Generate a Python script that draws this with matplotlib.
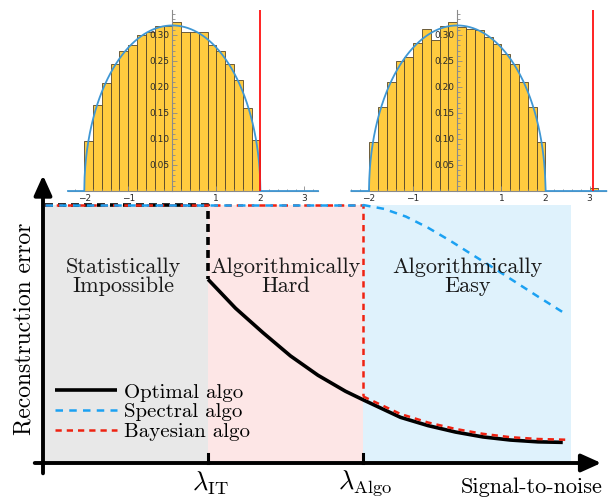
import numpy as np
import matplotlib.pyplot as plt
from matplotlib.ticker import MultipleLocator

plt.rcParams['mathtext.fontset'] = 'cm'
plt.rcParams['axes.unicode_minus'] = True

# ---------- histograms of the spectrum (bins of width 0.2 on [-2, 2]) ----------
bin_edges = np.linspace(-2, 2, 21)
hist_below = [0.097, 0.165, 0.207, 0.244, 0.269, 0.281, 0.299, 0.305, 0.317, 0.317,
              0.324, 0.305, 0.305, 0.305, 0.281, 0.269, 0.244, 0.213, 0.159, 0.098]
hist_above = [0.095, 0.162, 0.209, 0.250, 0.257, 0.284, 0.311, 0.290, 0.318, 0.324,
              0.315, 0.311, 0.310, 0.297, 0.283, 0.264, 0.244, 0.210, 0.162, 0.095]
outlier_bin = [3.0, 3.2]
outlier_height = 0.006
top_eig_below = 2.0
top_eig_above = 3.08

# ---------- schematic error curves ----------
lam_it = 3.0
lam_algo = 5.82
x_start, x_end = 0.04, 9.6

opt_x = [3.0, 3.5, 4.0, 4.5, 5.0, 5.5, 5.82, 6.5, 7.0, 7.5, 8.0, 8.5, 9.0, 9.45]
opt_y = [0.712, 0.600, 0.505, 0.415, 0.340, 0.278, 0.245, 0.177, 0.145, 0.120,
         0.101, 0.089, 0.082, 0.080]
spec_x = [5.82, 6.2, 6.6, 7.0, 7.4, 7.8, 8.2, 8.6, 9.0, 9.5]
spec_y = [1.0, 0.985, 0.955, 0.912, 0.862, 0.808, 0.755, 0.700, 0.645, 0.578]
bayes_x = [5.82, 6.5, 7.0, 7.5, 8.0, 8.5, 9.0, 9.55]
bayes_y = [0.258, 0.190, 0.157, 0.132, 0.113, 0.100, 0.093, 0.090]

serif = 'cmr10'
col_gray = '#e8e8e8'
col_pink = '#fde6e6'
col_sky = '#dff2fc'
col_blue = '#1ba1f2'
col_red = '#ee2211'

fig = plt.figure(figsize=(6.15, 4.97), dpi=100)

# main schematic axes covers the whole figure (1 unit = 55 px in x, 258 px in y)
ax = fig.add_axes([0, 0, 1, 1])
ax.set_xlim(-43 / 55, (615 - 43) / 55)
ax.set_ylim((463 - 497) / 258, 463 / 258)
ax.axis('off')

ax.fill_between([x_start, lam_it], 0, 1, color=col_gray, lw=0, zorder=0)
ax.fill_between([lam_it, lam_algo], 0, 1, color=col_pink, lw=0, zorder=0)
ax.fill_between([lam_algo, x_end], 0, 1, color=col_sky, lw=0, zorder=0)

# optimal: flat at 1, jump at lambda_IT, then decreasing
ax.plot([x_start, lam_it, lam_it], [1, 1, opt_y[0]], color='black', lw=2.6,
        dashes=(2.2, 1.4), zorder=3)
optimal, = ax.plot(opt_x, opt_y, color='black', lw=2.6, solid_capstyle='butt',
                   zorder=3, label='Optimal algo')
# bayesian: stuck until lambda_Algo
ax.plot([x_start, lam_algo, lam_algo], [1, 1, bayes_y[0]], color=col_red, lw=1.8,
        dashes=(2.5, 2.0), zorder=4)
bayes, = ax.plot(bayes_x, bayes_y, color=col_red, lw=1.8, dashes=(2.5, 2.0),
                 zorder=4, label='Bayesian algo')
# spectral
ax.plot([x_start, lam_algo], [1, 1], color=col_blue, lw=1.8, dashes=(3.0, 2.5),
        zorder=5)
spectral, = ax.plot(spec_x, spec_y, color=col_blue, lw=1.8, dashes=(3.0, 2.5),
                    zorder=5, label='Spectral algo')

# axes arrows
arrow = dict(arrowstyle='-|>,head_length=0.6,head_width=0.27', lw=2.8,
             color='black', mutation_scale=20, shrinkA=0, shrinkB=0)
ax.annotate('', xy=(0, 1.115), xytext=(0, -0.04), arrowprops=arrow, zorder=6)
ax.annotate('', xy=(10.15, 0), xytext=(-0.15, 0), arrowprops=arrow, zorder=6)
for lam in (lam_it, lam_algo):
    ax.plot([lam, lam], [0, 0.035], color='black', lw=2.2, zorder=6)

ax.text(lam_it + 0.05, -0.078, r'$\lambda_{\mathrm{IT}}$', fontsize=19,
        ha='center', va='center')
ax.text(lam_algo + 0.04, -0.078, r'$\lambda_{\mathrm{Algo}}$', fontsize=19,
        ha='center', va='center')
ax.text(10.17, -0.093, 'Signal-to-noise', family=serif, fontsize=16,
        ha='right', va='center')
ax.text(-0.345, 0.52, 'Reconstruction error', family=serif, fontsize=17,
        rotation=90, ha='center', va='center')

for xc, label in [(1.47, 'Statistically\nImpossible'),
                  (4.41, 'Algorithmically\nHard'),
                  (7.72, 'Algorithmically\nEasy')]:
    ax.text(xc, 0.722, label, family=serif, fontsize=16, ha='center',
            va='center', linespacing=1.0, color='#1a1a1a', zorder=7)

ax.legend(handles=[optimal, spectral, bayes], loc='upper left',
          bbox_to_anchor=(0.218, 0.31), bbox_transform=ax.transData,
          frameon=False, borderpad=0, borderaxespad=0, labelspacing=0.05,
          handlelength=3.0, handletextpad=0.3,
          prop={'family': serif, 'size': 15})


def spectrum_inset(rect, xlim, heights, top_eig, extra=None):
    ins = fig.add_axes(rect)
    ins.patch.set_alpha(0)
    ins.set_xlim(*xlim)
    ins.set_ylim(0, 0.348)
    ins.bar(bin_edges[:-1], heights, width=np.diff(bin_edges), align='edge',
            color='#ffcb3f', edgecolor='#54452a', lw=0.6, zorder=1)
    if extra is not None:
        ins.bar(extra[0][0], extra[1], width=extra[0][1] - extra[0][0],
                align='edge', color='#ffcb3f', edgecolor='#54452a', lw=0.6,
                zorder=1)
    xs = np.linspace(xlim[0], xlim[1], 800)
    ins.plot(xs, np.sqrt(np.clip(4 - xs ** 2, 0, None)) / (2 * np.pi),
             color='#3f97d4', lw=1.3, zorder=3, clip_on=False)
    ins.axvline(top_eig, color='#ff1111', lw=1.3, zorder=4)

    for side in ('top', 'right'):
        ins.spines[side].set_visible(False)
    ins.spines['left'].set_position(('data', 0))
    ins.spines['bottom'].set_position(('data', 0))
    for side in ('left', 'bottom'):
        ins.spines[side].set_color('#8a8a8a')
        ins.spines[side].set_linewidth(0.8)
        ins.spines[side].set_zorder(2)
    ins.set_xticks([-2, -1, 1, 2, 3])
    ins.xaxis.set_minor_locator(MultipleLocator(0.2))
    ins.set_yticks([0.05, 0.10, 0.15, 0.20, 0.25, 0.30])
    ins.set_yticklabels(['0.05', '0.10', '0.15', '0.20', '0.25', '0.30'])
    ins.yaxis.set_minor_locator(MultipleLocator(0.01))
    ins.tick_params(which='both', direction='in', color='#8a8a8a', width=0.6,
                    labelsize=6.5, labelcolor='#2a2a2a', pad=2)
    ins.tick_params(which='major', length=3.5)
    ins.tick_params(which='minor', length=1.8)
    for lab in ins.get_xticklabels() + ins.get_yticklabels():
        lab.set_family('DejaVu Sans')
    return ins


spectrum_inset([68 / 615, 306 / 497, 250 / 615, 181 / 497], (-2.37, 3.31),
               hist_below, top_eig_below)
spectrum_inset([351.4 / 615, 306 / 497, 254.9 / 615, 181 / 497], (-2.4, 3.38),
               hist_above, top_eig_above, extra=(outlier_bin, outlier_height))

fig.savefig('out.png', dpi=100)
